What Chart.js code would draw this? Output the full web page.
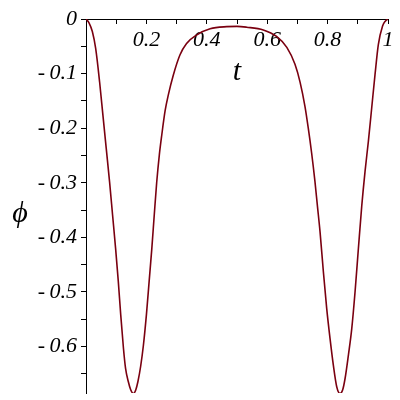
<!DOCTYPE html>
<html>
<head>
<meta charset="utf-8">
<script src="https://cdn.jsdelivr.net/npm/chart.js@4/dist/chart.umd.min.js"></script>
<style>
  body { margin: 0; background: #fff; }
  #wrap { width: 400px; height: 400px; }
</style>
</head>
<body>
<div id="wrap"><canvas id="plot" width="400" height="400"></canvas></div>
<script>
// values: t along the top axis, phi downward
const tValues = [0, 0.010, 0.021, 0.032, 0.045, 0.056, 0.067, 0.078, 0.088, 0.098, 0.107, 0.115, 0.124, 0.131, 0.140, 0.148, 0.157, 0.165, 0.172, 0.181, 0.190, 0.200, 0.209, 0.218, 0.226, 0.234, 0.243, 0.251, 0.262, 0.273, 0.289, 0.311, 0.333, 0.367, 0.411, 0.466, 0.5, 0.532, 0.587, 0.631, 0.665, 0.692, 0.709, 0.725, 0.736, 0.747, 0.758, 0.766, 0.775, 0.786, 0.797, 0.808, 0.819, 0.830, 0.841, 0.850, 0.858, 0.869, 0.880, 0.891, 0.902, 0.913, 0.924, 0.935, 0.946, 0.957, 0.968, 0.982, 0.991, 1.0]
const phiValues = [0, -0.007, -0.023, -0.054, -0.115, -0.176, -0.237, -0.298, -0.359, -0.420, -0.481, -0.542, -0.603, -0.640, -0.664, -0.679, -0.686, -0.679, -0.664, -0.636, -0.598, -0.542, -0.481, -0.420, -0.359, -0.300, -0.248, -0.212, -0.168, -0.138, -0.103, -0.066, -0.045, -0.029, -0.018, -0.014, -0.0135, -0.015, -0.020, -0.032, -0.052, -0.083, -0.116, -0.160, -0.200, -0.245, -0.297, -0.341, -0.390, -0.463, -0.530, -0.585, -0.634, -0.673, -0.686, -0.679, -0.658, -0.615, -0.567, -0.499, -0.420, -0.343, -0.279, -0.224, -0.163, -0.102, -0.047, -0.013, -0.004, 0]

const xTickLabels = ['0.2', '0.4', '0.6', '0.8', '1']
const yTickLabels = ['0', '-0.1', '-0.2', '-0.3', '-0.4', '-0.5', '-0.6']

const serif = '"Liberation Serif", "Times New Roman", serif'
const lineColor = '#7a0010'

const points = tValues.map((t, i) => ({ x: t, y: phiValues[i] }))

const phiLabel = {
  id: 'phiLabel',
  afterDraw(chart) {
    const ctx = chart.ctx
    const area = chart.chartArea
    ctx.save()
    ctx.fillStyle = '#000'
    ctx.font = 'italic 30px ' + serif
    ctx.textAlign = 'center'
    ctx.textBaseline = 'middle'
    ctx.fillText('\u03d5', 20, (area.top + area.bottom) / 2 + 8)
    ctx.restore()
  }
}

const ctx = document.getElementById('plot')
new Chart(ctx, {
  type: 'scatter',
  data: {
    datasets: [{
      label: 'phi',
      data: points,
      showLine: true,
      borderColor: lineColor,
      borderWidth: 1.6,
      pointRadius: 0,
      cubicInterpolationMode: 'monotone',
      fill: false
    }]
  },
  options: {
    responsive: false,
    animation: false,
    layout: { padding: { left: 0, right: 12, top: 19, bottom: 7 } },
    plugins: { legend: { display: false }, tooltip: { enabled: false } },
    scales: {
      x: {
        type: 'linear',
        position: { y: 0 },
        min: 0,
        max: 1,
        grid: { drawOnChartArea: false, color: '#000', tickLength: 4 },
        border: { display: true, color: '#000', width: 1 },
        ticks: {
          stepSize: 0.1,
          autoSkip: false,
          maxRotation: 0,
          padding: 4,
          color: '#000',
          font: { family: serif, size: 22, style: 'italic' },
          callback: function (v) {
            const k = Math.round(v * 10)
            if (k > 0 && k % 2 === 0) return xTickLabels[k / 2 - 1]
            return ''
          }
        },
        title: {
          display: true,
          text: 't',
          color: '#000',
          font: { family: serif, size: 30, style: 'italic' },
          padding: { top: -3, bottom: 0 }
        }
      },
      y: {
        type: 'linear',
        position: 'left',
        min: -0.685,
        max: 0,
        afterFit: function (scale) {
          scale.width = 86
          scale.paddingTop = 0
          scale.paddingBottom = 0
        },
        grid: { drawOnChartArea: false, color: '#000', tickLength: 5 },
        border: { display: true, color: '#000', width: 1 },
        ticks: {
          stepSize: 0.05,
          includeBounds: false,
          autoSkip: false,
          padding: 4,
          color: '#000',
          font: { family: serif, size: 22, style: 'italic' },
          callback: function (v) {
            const k = Math.round(-v * 20)
            if (k % 2 === 0) return yTickLabels[k / 2].replace('-', '-\u2009')
            return ''
          }
        }
      }
    }
  },
  plugins: [phiLabel]
})
</script>
</body>
</html>
